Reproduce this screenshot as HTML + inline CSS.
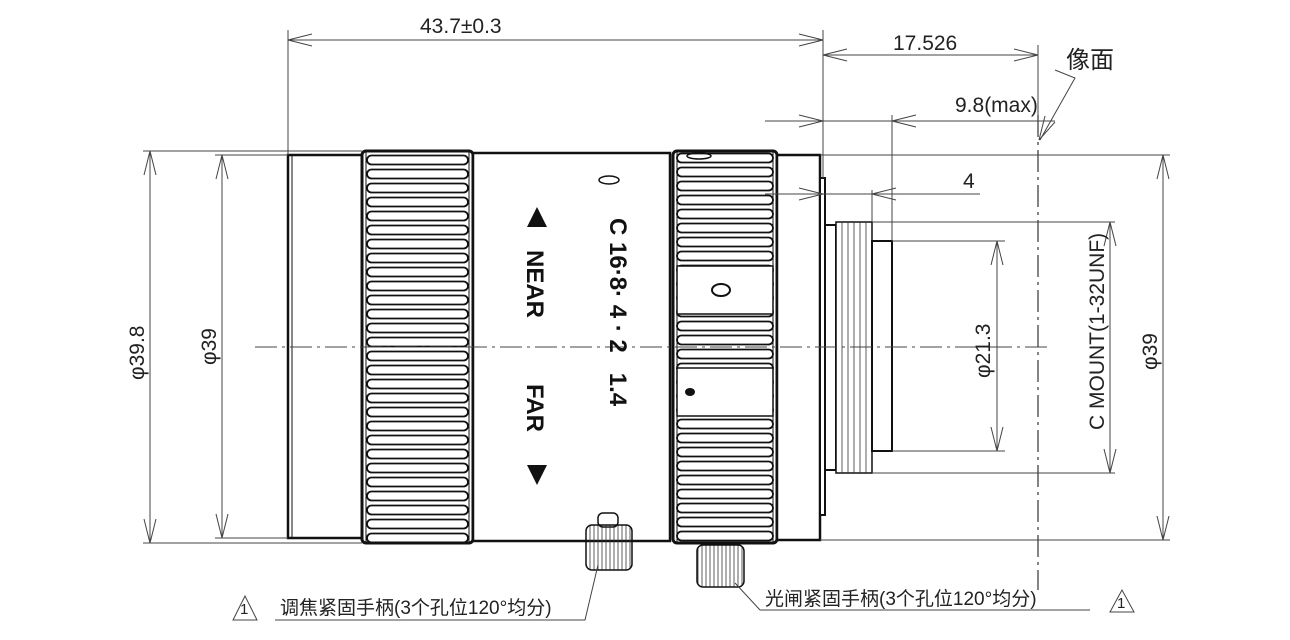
<!DOCTYPE html>
<html><head><meta charset="utf-8"><style>
html,body{margin:0;padding:0;background:#fff;}
svg{display:block;}
.d{font-family:"Liberation Sans","Noto Sans CJK SC",sans-serif;font-size:21px;fill:#222;}
.t{font-family:"Liberation Sans",sans-serif;font-size:24px;font-weight:bold;fill:#111;}
</style></head><body>
<svg width="1290" height="640" viewBox="0 0 1290 640" xmlns="http://www.w3.org/2000/svg">
<defs>
<pattern id="rib" patternUnits="userSpaceOnUse" x="362" y="153" width="111" height="14">
<rect x="0" y="0" width="111" height="14" fill="#fff"/>
<rect x="5" y="2.5" width="101" height="9" rx="4.5" fill="none" stroke="#111" stroke-width="1.8"/>
</pattern>
<pattern id="rib2" patternUnits="userSpaceOnUse" x="673" y="151" width="104" height="14">
<rect x="0" y="0" width="104" height="14" fill="#fff"/>
<rect x="4" y="2.5" width="96" height="9" rx="4.5" fill="none" stroke="#111" stroke-width="1.8"/>
</pattern>
<pattern id="knurl" patternUnits="userSpaceOnUse" width="4" height="10">
<line x1="2" y1="0" x2="2" y2="10" stroke="#333" stroke-width="0.8"/>
</pattern>
</defs>

<line x1="1038" y1="115" x2="1038" y2="590" stroke="#333" stroke-width="1.2" stroke-dasharray="22,5,3,5"/>

<g stroke="#111" fill="#fff">
<rect x="288" y="155" width="74" height="383" stroke-width="2.5"/>
<line x1="292" y1="155" x2="292" y2="538" stroke-width="1"/>
<rect x="362" y="151" width="111" height="392" fill="url(#rib)" stroke-width="3" rx="4"/>
<line x1="366" y1="151" x2="366" y2="543" stroke-width="1"/>
<line x1="469" y1="151" x2="469" y2="543" stroke-width="1"/>
<rect x="473" y="153" width="197" height="388" stroke-width="2.5"/>
<rect x="673" y="151" width="104" height="392" fill="url(#rib2)" stroke-width="3" rx="4"/>
<rect x="677" y="266" width="96" height="48" stroke-width="1.5"/>
<rect x="677" y="368" width="96" height="48" stroke-width="1.5"/>
<line x1="677" y1="151" x2="677" y2="543" stroke-width="1"/>
<line x1="773" y1="151" x2="773" y2="543" stroke-width="1"/>
<rect x="777" y="155" width="43" height="385" stroke-width="2.5"/>
<rect x="820" y="178" width="5" height="337" stroke-width="2"/>
<rect x="825" y="225" width="11" height="245" stroke-width="2"/>
<rect x="836" y="222" width="36" height="251" stroke-width="1.5"/>
<rect x="872" y="241" width="20" height="210" stroke-width="2"/>
</g>
<g stroke="#333" stroke-width="0.8">
<line x1="842" y1="222" x2="842" y2="473"/><line x1="848" y1="222" x2="848" y2="473"/><line x1="854" y1="222" x2="854" y2="473"/><line x1="860" y1="222" x2="860" y2="473"/><line x1="866" y1="222" x2="866" y2="473"/>
</g>
<line x1="255" y1="347" x2="1050" y2="347" stroke="#444" stroke-width="1" stroke-dasharray="22,5,3,5"/>
<ellipse cx="609" cy="180" rx="10" ry="4" fill="none" stroke="#111" stroke-width="1.5"/>
<ellipse cx="699" cy="156" rx="12" ry="3" fill="none" stroke="#111" stroke-width="1.5"/>
<ellipse cx="721" cy="290" rx="9" ry="6" fill="#fff" stroke="#111" stroke-width="2"/>
<ellipse cx="690" cy="392" rx="5" ry="4" fill="#111"/>

<g stroke="#111" stroke-width="1.5">
<rect x="598" y="513" width="20" height="14" rx="5" fill="#fff"/>
<rect x="586" y="525" width="46" height="45" rx="6" fill="url(#knurl)"/>
<rect x="697" y="545" width="47" height="42" rx="6" fill="url(#knurl)"/>
</g>

<g transform="translate(610,218) rotate(90)"><text class="t" x="0" y="0" xml:space="preserve">C 16·8· 4 · 2   1.4</text></g>
<g transform="translate(527,250) rotate(90)"><text class="t" x="0" y="0" font-size="26">NEAR</text></g>
<g transform="translate(527,384) rotate(90)"><text class="t" x="0" y="0" font-size="26">FAR</text></g>
<polygon points="537,207 527,227 547,227" fill="#111"/>
<polygon points="537,485 527,465 547,465" fill="#111"/>

<g stroke="#444" stroke-width="1" fill="none">
<line x1="288" y1="30" x2="288" y2="155"/>
<line x1="823" y1="30" x2="823" y2="178"/>
<line x1="288" y1="40" x2="823" y2="40"/>
<polyline points="312,34 288,40 312,46"/><polyline points="799,34 823,40 799,46"/>
<line x1="823" y1="55" x2="1038" y2="55"/>
<polyline points="847,49 823,55 847,61"/><polyline points="1014,49 1038,55 1014,61"/>
<line x1="1038" y1="45" x2="1038" y2="115"/>
<line x1="765" y1="121" x2="1055" y2="121"/>
<polyline points="799,115 823,121 799,127"/><polyline points="916,115 892,121 916,127"/>
<line x1="892" y1="115" x2="892" y2="241"/>
<line x1="765" y1="194" x2="980" y2="194"/>
<polyline points="799,188 823,194 799,200"/><polyline points="896,188 872,194 896,200"/>
<line x1="872" y1="190" x2="872" y2="222"/>
<polyline points="1055,70 1075,78 1040,140"/>
<polyline points="1045,116 1039,140 1055,122"/>
<line x1="892" y1="241" x2="1005" y2="241"/><line x1="892" y1="451" x2="1005" y2="451"/>
<line x1="997" y1="241" x2="997" y2="451"/>
<polyline points="991,265 997,241 1003,265"/><polyline points="991,427 997,451 1003,427"/>
<line x1="872" y1="222" x2="1115" y2="222"/><line x1="872" y1="473" x2="1115" y2="473"/>
<line x1="1110" y1="222" x2="1110" y2="473"/>
<polyline points="1104,246 1110,222 1116,246"/><polyline points="1104,449 1110,473 1116,449"/>
<line x1="820" y1="155" x2="1170" y2="155"/><line x1="820" y1="540" x2="1170" y2="540"/>
<line x1="1163" y1="155" x2="1163" y2="540"/>
<polyline points="1157,179 1163,155 1169,179"/><polyline points="1157,516 1163,540 1169,516"/>
<line x1="143" y1="151" x2="362" y2="151"/><line x1="143" y1="543" x2="362" y2="543"/>
<line x1="150" y1="151" x2="150" y2="543"/>
<polyline points="144,175 150,151 156,175"/><polyline points="144,519 150,543 156,519"/>
<line x1="215" y1="155" x2="288" y2="155"/><line x1="215" y1="538" x2="288" y2="538"/>
<line x1="222" y1="155" x2="222" y2="538"/>
<polyline points="216,179 222,155 228,179"/><polyline points="216,514 222,538 228,514"/>
<polyline points="598,565 585,620 275,620"/>
<polyline points="735,583 760,610 1090,610"/>
<polygon points="245,596 233,620 257,620"/>
<polygon points="1122,590 1110,612 1134,612"/>
</g>
<g class="d">
<text x="420" y="33">43.7±0.3</text>
<text x="893" y="50">17.526</text>
<text x="1066" y="68" font-size="24">像面</text>
<text x="955" y="112">9.8(max)</text>
<text x="963" y="188">4</text>
<text x="240" y="614" font-size="15">1</text>
<text x="1117" y="608" font-size="15">1</text>
<text x="280" y="614" font-size="19">调焦紧固手柄(3个孔位120°均分)</text>
<text x="765" y="605" font-size="19">光闸紧固手柄(3个孔位120°均分)</text>
<g transform="translate(144,380) rotate(-90)"><text x="0" y="0">φ39.8</text></g>
<g transform="translate(216,365) rotate(-90)"><text x="0" y="0">φ39</text></g>
<g transform="translate(990,378) rotate(-90)"><text x="0" y="0">φ21.3</text></g>
<g transform="translate(1104,430) rotate(-90)"><text x="0" y="0">C MOUNT(1-32UNF)</text></g>
<g transform="translate(1157,370) rotate(-90)"><text x="0" y="0">φ39</text></g>
</g>
</svg>
</body></html>
